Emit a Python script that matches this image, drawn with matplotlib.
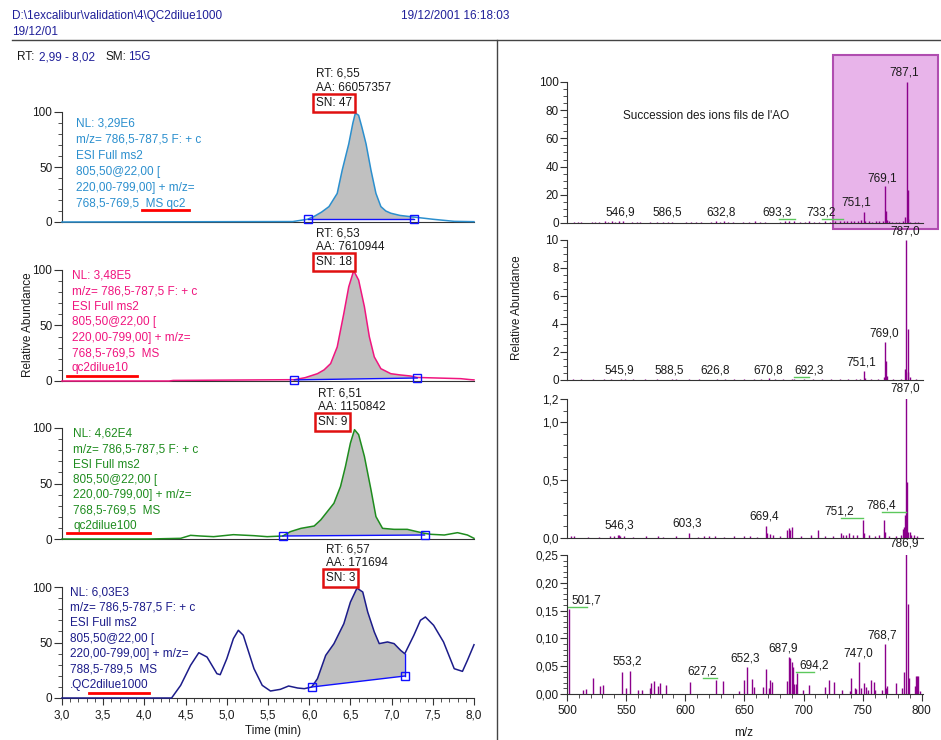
"""
plot.py

Xcalibur-style report: four SRM chromatograms (left) and the matching
MS2 spectra (right) for the QC2 dilution series.
"""

import matplotlib
matplotlib.use('Agg')
import matplotlib.pyplot as plt
from matplotlib.ticker import MultipleLocator, FixedLocator, FuncFormatter
from matplotlib.patches import Rectangle
from matplotlib.lines import Line2D

plt.rcParams['font.family'] = ['Liberation Sans', 'DejaVu Sans']
plt.rcParams['font.size'] = 8.5

# --- chromatograms: time (min) / relative abundance (%) ---
t_qc2 = [3.0, 5.80, 5.98, 6.06, 6.15, 6.24, 6.34, 6.40, 6.48, 6.53, 6.56, 6.60, 6.64,
         6.69, 6.75, 6.81, 6.87, 6.93, 6.99, 7.10, 7.27, 7.50, 7.76, 8.0]
i_qc2 = [0.0, 0.4, 2.5, 5.1, 9.0, 14, 26, 47, 71, 90, 99, 97, 86,
         71, 47, 26, 14, 10, 8, 6, 4.5, 2.5, 0.6, 0.3]

t_d10 = [3.0, 4.30, 4.35, 5.82, 5.95, 6.10, 6.18, 6.26, 6.34, 6.42, 6.48, 6.54, 6.60,
         6.67, 6.73, 6.79, 6.87, 6.99, 7.10, 7.23, 7.31, 7.50, 7.84, 7.96, 8.0]
i_d10 = [0.0, 0.0, 0.5, 1.2, 3.0, 6.6, 10, 15.7, 30.7, 60.8, 84.9, 99.4, 90.9,
         66.9, 39.8, 21.7, 11.1, 6.6, 5.5, 4.5, 3.2, 2.8, 2.1, 1.2, 1.0]

t_d100 = [3.0, 4.05, 4.44, 4.56, 4.68, 4.84, 5.08, 5.33, 5.49, 5.68, 5.77, 5.90, 6.06,
          6.14, 6.22, 6.30, 6.38, 6.44, 6.50, 6.55, 6.60, 6.67, 6.75, 6.81, 6.89,
          7.03, 7.19, 7.31, 7.40, 7.48, 7.64, 7.80, 7.92, 8.0]
i_d100 = [0.0, 0.0, 0.6, 3.3, 2.7, 2.1, 3.9, 3.0, 2.1, 2.7, 6.6, 9.6, 11.7,
          17.2, 24.7, 32.2, 47.3, 65.4, 86.4, 98.5, 94, 74.4, 44.3, 20.2, 9.6,
          8.7, 8.7, 6.6, 5.1, 4.2, 3.6, 5.7, 3.6, 0.6]

t_d1000 = [3.0, 4.33, 4.44, 4.56, 4.66, 4.76, 4.88, 4.92, 5.00, 5.08, 5.14, 5.20, 5.33,
           5.43, 5.53, 5.65, 5.75, 5.86, 5.94, 6.03, 6.10, 6.20, 6.30, 6.42, 6.50,
           6.58, 6.65, 6.71, 6.79, 6.85, 6.95, 7.03, 7.11, 7.16, 7.27, 7.35, 7.41,
           7.51, 7.63, 7.76, 7.86, 7.92, 8.0]
i_d1000 = [0.0, 0.0, 11.4, 29.4, 40.8, 36.9, 21.9, 21.0, 35.4, 53.5, 61.0, 56.5, 26.4,
           11.4, 6.3, 7.8, 10.8, 9.0, 8.4, 9.9, 17.4, 38.4, 48.9, 66.9, 86.4,
           99, 95.5, 77.5, 59.5, 49, 50.5, 49, 42.9, 39.9, 56.5, 70, 73,
           65.5, 50.5, 26.4, 24, 33.9, 48]

# integration limits (start, end) and baseline levels
limits = [(5.98, 7.27), (5.82, 7.31), (5.68, 7.40), (6.03, 7.16)]
base_levels = [(2.5, 2.5), (1.0, 2.7), (2.7, 3.6), (9.9, 19.8)]

rt_values = ['6,55', '6,53', '6,51', '6,57']
aa_values = ['66057357', '7610944', '1150842', '171694']
sn_values = ['47', '18', '9', '3']
nl_values = ['3,29E6', '3,48E5', '4,62E4', '6,03E3']
mz_windows = ['768,5-769,5', '768,5-769,5', '768,5-769,5', '788,5-789,5']
samples = ['qc2', 'qc2dilue10', 'qc2dilue100', '.QC2dilue1000']

# --- MS2 spectra: m/z / relative abundance ---
mz_s1 = [506, 509, 512, 521, 524, 527, 532, 535, 538, 541, 544, 547, 555, 559, 562,
         570, 576, 581, 585, 589, 601, 605, 609, 613, 622, 626, 629, 633, 636, 640,
         649, 654, 659, 663, 667, 680, 684, 688, 692, 697, 701, 705, 709, 713, 718,
         722, 727, 731, 734, 737, 740, 743, 746, 749, 751.1, 752.0, 755, 758, 761,
         764, 767, 769.1, 769.8, 770.5, 772, 775, 778, 781, 784, 786.2, 787.1, 787.9,
         788.7, 790, 794, 797]
ab_s1 = [0.8, 0.6, 0.9, 1.0, 0.7, 0.8, 1.2, 0.9, 1.1, 0.8, 1.3, 1.5, 0.7, 0.9, 0.6,
         0.8, 1.0, 0.7, 0.9, 0.8, 0.7, 1.0, 0.8, 0.6, 0.9, 1.1, 0.7, 1.2, 0.8, 1.0,
         0.9, 0.7, 1.1, 0.8, 0.6, 1.0, 1.3, 1.5, 1.2, 0.9, 0.8, 1.1, 0.9, 1.0, 1.2,
         1.0, 1.3, 1.1, 1.4, 1.2, 1.5, 1.3, 1.6, 1.8, 7.6, 1.5, 1.2, 1.0, 1.3,
         1.1, 1.4, 26, 8.7, 2.0, 1.2, 0.9, 1.0, 0.8, 1.5, 4.5, 100, 23.6,
         3.0, 1.0, 0.8, 0.6]

mz_s2 = [505, 512, 522, 531, 537, 545.9, 549, 556, 566, 576, 588.5, 592, 603, 612,
         626.8, 634, 641, 650, 658, 664, 670.8, 676, 683, 690, 692.3, 700, 708, 716,
         723, 731, 738, 744, 748, 751.1, 751.8, 757, 763, 768.2, 769.0, 769.8, 770.5,
         776, 782, 786.2, 787.0, 787.9, 788.7, 790, 795]
ab_s2 = [0.05, 0.07, 0.06, 0.08, 0.05, 0.10, 0.06, 0.05, 0.07, 0.06, 0.08, 0.05, 0.06,
         0.05, 0.07, 0.06, 0.05, 0.06, 0.07, 0.05, 0.12, 0.07, 0.06, 0.08, 0.10, 0.07,
         0.06, 0.08, 0.07, 0.09, 0.08, 0.07, 0.10, 0.62, 0.15, 0.08, 0.07, 0.20, 2.72,
         1.34, 0.30, 0.08, 0.10, 0.76, 10.0, 3.63, 0.57, 0.20, 0.06]

mz_s3 = [503, 506, 518, 527, 536, 540, 543, 544.1, 545, 548, 556, 567, 577, 581, 592,
         603.1, 611, 616, 620, 625, 633, 641, 650, 655, 661, 668.3, 669.2, 672, 674.5,
         680, 685.9, 687.3, 688.6, 689.9, 698, 706, 712.3, 718, 725, 731.4, 733, 736,
         738.4, 742, 745, 750.6, 751.5, 755, 760, 764, 768.0, 768.8, 772, 778, 782,
         784.5, 785.2, 785.7, 786.3, 787.0, 787.8, 788.6, 789.6, 791, 793.5, 796]
ab_s3 = [0.015, 0.015, 0.01, 0.012, 0.015, 0.02, 0.025, 0.03, 0.02, 0.015, 0.01, 0.015,
         0.02, 0.012, 0.015, 0.043, 0.012, 0.02, 0.015, 0.02, 0.012, 0.015, 0.02, 0.015,
         0.012, 0.107, 0.04, 0.035, 0.03, 0.015, 0.066, 0.087, 0.066, 0.095, 0.02, 0.025,
         0.066, 0.02, 0.015, 0.046, 0.03, 0.025, 0.046, 0.03, 0.025, 0.153, 0.04, 0.03,
         0.02, 0.025, 0.159, 0.05, 0.02, 0.015, 0.03, 0.08, 0.095, 0.2, 0.09, 1.21,
         0.485, 0.05, 0.05, 0.03, 0.03, 0.02]

mz_s4 = [501.7, 513.8, 515.8, 522.2, 527.9, 530.1, 546.9, 549.7, 553.2, 560.0, 563.5,
         569.9, 570.8, 573.3, 577.0, 579.0, 584.0, 603.7, 626.1, 631.7, 645.2, 649.4,
         652.3, 656.2, 657.9, 665.5, 668.3, 670.5, 671.7, 673.1, 685.7, 687.9, 688.7,
         689.9, 691.0, 692.1, 693.2, 694.2, 699.2, 704.8, 718.3, 721.1, 725.9, 732.9,
         739.4, 740.2, 743.3, 744.4, 747.0, 748.3, 751.4, 752.8, 754.5, 757.3, 759.3,
         760.4, 766.0, 768.7, 769.4, 770.5, 777.8, 783.5, 784.9, 786.9, 788.0, 789.1,
         794.5, 795.3, 796.2, 797.0, 798.2]
ab_s4 = [0.153, 0.008, 0.009, 0.029, 0.014, 0.016, 0.040, 0.010, 0.042, 0.008, 0.008,
         0.010, 0.019, 0.023, 0.015, 0.019, 0.017, 0.021, 0.025, 0.023, 0.005, 0.025,
         0.048, 0.027, 0.013, 0.013, 0.045, 0.011, 0.025, 0.021, 0.023, 0.066, 0.065,
         0.058, 0.048, 0.018, 0.018, 0.037, 0.008, 0.017, 0.012, 0.025, 0.021, 0.008,
         0.006, 0.029, 0.011, 0.009, 0.058, 0.011, 0.020, 0.013, 0.008, 0.026, 0.021,
         0.008, 0.008, 0.090, 0.011, 0.015, 0.019, 0.011, 0.040, 0.252, 0.161, 0.029,
         0.015, 0.033, 0.033, 0.033, 0.005]

# peak labels (text, x, y) and leader lines (x0, x1, y) per spectrum
labels_s1 = [('546,9', 544.7, 7.1), ('586,5', 585.1, 7.1), ('632,8', 630.6, 7.1),
             ('693,3', 677.8, 7.1), ('733,2', 714.9, 7.1), ('751,1', 744.4, 14.2),
             ('769,1', 766.3, 31.9), ('787,1', 784.8, 106.4)]
leaders_s1 = [(679, 693, 2.8), (716, 733, 2.8)]
labels_s2 = [('545,9', 544.1, 0.66), ('588,5', 586.8, 0.66), ('626,8', 625.6, 0.66),
             ('670,8', 669.7, 0.66), ('692,3', 704.8, 0.66), ('751,1', 748.8, 1.26),
             ('769,0', 768.0, 3.33), ('787,0', 786.2, 10.6)]
leaders_s2 = [(692.2, 704.8, 0.24)]
labels_s3 = [('546,3', 544.1, 0.112), ('603,3', 601.7, 0.127), ('669,4', 666.8, 0.184),
             ('751,2', 730.0, 0.227), ('786,4', 766.0, 0.279), ('787,0', 785.7, 1.293)]
leaders_s3 = [(731.4, 750.5, 0.17), (766.6, 786.3, 0.227)]
labels_s4 = [('501,7', 516.0, 0.169), ('553,2', 551.1, 0.058), ('627,2', 614.0, 0.040),
             ('652,3', 650.8, 0.064), ('687,9', 682.9, 0.082), ('694,2', 709.0, 0.052),
             ('747,0', 746.1, 0.073), ('768,7', 766.6, 0.106), ('786,9', 784.8, 0.271)]
leaders_s4 = [(501.2, 516.6, 0.157), (615.4, 626.7, 0.029), (693.5, 709.0, 0.040)]

# --- figure helpers (pixel coordinates, origin top-left) ---
W, H = 941, 740
fig = plt.figure(figsize=(W / 100, H / 100), dpi=100)


def fx(px):
    return px / W


def fy(py):
    return 1 - py / H


def box(x0, x1, ytop, ybot):
    return fig.add_axes([fx(x0), fy(ybot), (x1 - x0) / W, (ybot - ytop) / H])


def comma(fmt):
    return FuncFormatter(lambda v, p: format(v, fmt).replace('.', ','))


def hline(x0, x1, y, **kw):
    fig.add_artist(Line2D([fx(x0), fx(x1)], [fy(y), fy(y)], transform=fig.transFigure, **kw))


def put(x, y, s, **kw):
    # y is the visual middle of the digits; baseline sits ~4 px lower
    return fig.text(fx(x), fy(y + 4), s, va='baseline', **kw)


BLACK = '#1a1a1a'
NAVY = '#1f1f99'

# header
put(12, 15, 'D:\\1excalibur\\validation\\4\\QC2dilue1000', color=NAVY)
put(12, 31, '19/12/01', color=NAVY)
put(401, 15, '19/12/2001 16:18:03', color=NAVY)
put(17, 56, 'RT:', color=BLACK)
put(39, 56, '2,99 - 8,02', color=NAVY)
put(106, 56, 'SM:', color=BLACK)
put(128, 56, '15G', color=NAVY)
hline(12, 941, 40, color='#444444', lw=1)
fig.add_artist(Line2D([fx(497), fx(497)], [fy(40), 0], transform=fig.transFigure,
                      color='#444444', lw=1))

# --- left: chromatograms ---
chrom_t = [t_qc2, t_d10, t_d100, t_d1000]
chrom_i = [i_qc2, i_d10, i_d100, i_d1000]
colors = ['#2b8fce', '#f0157f', '#1e8c1e', '#1c1c8a']
left_rows = [(112, 222), (270, 381), (428, 539), (587, 698)]
text_pos = [(76, 123, 16.0), (72, 275, 15.4), (73, 433, 15.3), (70, 591.5, 15.4)]
ann_pos = [(316, 73), (316, 232), (318, 392), (326, 548)]
underlines = [(142, 189, 210), (67, 137, 376), (67, 150, 533), (89, 149, 693)]

for k in range(4):
    ax = box(62, 474, *left_rows[k])
    ax.set_facecolor('none')
    t, y, c = chrom_t[k], chrom_i[k], colors[k]
    t0, t1 = limits[k]
    b0, b1 = base_levels[k]
    # shaded integrated area: curve between limits, back along baseline
    px = [v for v in t if t0 <= v <= t1]
    py = [y[j] for j, v in enumerate(t) if t0 <= v <= t1]
    ax.fill(px + [t1, t0], py + [b1, b0], color='#c0c0c0', lw=0, zorder=1)
    ax.plot(t, y, color=c, lw=1.1, clip_on=False, zorder=3)
    ax.plot([t0, t1], [b0, b1], color='#1010ff', lw=1, zorder=4, clip_on=False)
    if k == 3:
        ax.plot([t1, t1], [b1, py[-1]], color='#1010ff', lw=1, zorder=4)
    ax.plot([t0, t1], [b0, b1], ls='none', marker='s', ms=6, mfc='none',
            mec='#1010ff', mew=1, zorder=5, clip_on=False)

    ax.set_xlim(3.0, 8.0)
    ax.set_ylim(0, 100)
    for s in ('top', 'right'):
        ax.spines[s].set_visible(False)
    for s in ('left', 'bottom'):
        ax.spines[s].set_color('#333333')
    ax.yaxis.set_major_locator(FixedLocator([0, 50, 100]))
    ax.yaxis.set_minor_locator(MultipleLocator(10))
    ax.xaxis.set_major_locator(MultipleLocator(0.5))
    ax.xaxis.set_minor_locator(MultipleLocator(0.1))
    ax.xaxis.set_major_formatter(comma('.1f'))
    ax.tick_params(axis='y', which='major', length=6, pad=1, color='#333333', labelcolor=BLACK)
    ax.tick_params(axis='y', which='minor', length=3, color='#333333')
    if k < 3:
        ax.tick_params(axis='x', which='both', length=0, labelbottom=False)
    else:
        ax.tick_params(axis='x', which='major', length=5, pad=3, color='#333333', labelcolor=BLACK)
        ax.tick_params(axis='x', which='minor', length=3, color='#333333')

    # scan filter text
    x0, y0, step = text_pos[k]
    lines = ['NL: ' + nl_values[k], 'm/z= 786,5-787,5 F: + c', 'ESI Full ms2',
             '805,50@22,00 [', '220,00-799,00] + m/z=']
    if k == 0:
        lines.append(mz_windows[k] + '  MS ' + samples[k])
    else:
        lines += [mz_windows[k] + '  MS', samples[k]]
    for j, line in enumerate(lines):
        put(x0, y0 + step * j, line, color=c)
    hline(*underlines[k][:2], underlines[k][2], color='red', lw=2)

    # peak annotation
    ax_, ay_ = ann_pos[k]
    put(ax_, ay_, 'RT: ' + rt_values[k], color=BLACK)
    put(ax_, ay_ + 14, 'AA: ' + aa_values[k], color=BLACK)
    put(ax_, ay_ + 29, 'SN: ' + sn_values[k], color=BLACK,
        bbox=dict(boxstyle='square,pad=0.25', fc='white', ec='#e01010', lw=1.8))

fig.text(fx(28), fy(325), 'Relative Abundance', rotation=90, ha='center', va='center', color=BLACK)
put(245, 730, 'Time (min)', color=BLACK)

# --- right: MS2 spectra ---
# highlight box behind the first spectrum
fig.add_artist(Rectangle((fx(833), fy(229)), (938 - 833) / W, (229 - 55) / H,
                         transform=fig.transFigure, fc='#e8b4ea', ec='#b04db0', lw=1.5,
                         zorder=-1))

spec_mz = [mz_s1, mz_s2, mz_s3, mz_s4]
spec_ab = [ab_s1, ab_s2, ab_s3, ab_s4]
spec_labels = [labels_s1, labels_s2, labels_s3, labels_s4]
spec_leaders = [leaders_s1, leaders_s2, leaders_s3, leaders_s4]
right_rows = [(82, 223), (240, 380), (399, 538), (555, 694)]
ylims = [100, 10, 1.2, 0.25]
yticks = [[0, 20, 40, 60, 80, 100], [0, 2, 4, 6, 8, 10], [0, 0.5, 1.0, 1.2],
          [0, 0.05, 0.10, 0.15, 0.20, 0.25]]
yminor = [5, 0.5, 0.1, 0.01]
yfmt = ['.0f', '.0f', '.1f', '.2f']

for k in range(4):
    ax = box(567, 923, *right_rows[k])
    ax.set_facecolor('none')
    ax.vlines(spec_mz[k], 0, spec_ab[k], color='#8b008b', lw=1)
    for txt, x, y in spec_labels[k]:
        ax.text(x, y, txt, ha='center', va='center', color=BLACK, clip_on=False)
    for x0, x1, y in spec_leaders[k]:
        ax.plot([x0, x1], [y, y], color='#5cc85c', lw=1, clip_on=False)

    ax.set_xlim(500, 801)
    ax.set_ylim(0, ylims[k])
    for s in ('top', 'right'):
        ax.spines[s].set_visible(False)
    for s in ('left', 'bottom'):
        ax.spines[s].set_color('#333333')
    ax.yaxis.set_major_locator(FixedLocator(yticks[k]))
    ax.yaxis.set_minor_locator(MultipleLocator(yminor[k]))
    ax.yaxis.set_major_formatter(comma(yfmt[k]))
    ax.xaxis.set_major_locator(MultipleLocator(50))
    ax.xaxis.set_minor_locator(MultipleLocator(10))
    ax.tick_params(axis='y', which='major', length=5, pad=1, color='#333333', labelcolor=BLACK)
    ax.tick_params(axis='y', which='minor', length=3, color='#333333')
    if k < 3:
        ax.tick_params(axis='x', which='both', length=0, labelbottom=False)
    else:
        ax.tick_params(axis='x', which='major', length=5, pad=3, color='#333333', labelcolor=BLACK)
        ax.tick_params(axis='x', which='minor', length=3, color='#333333')

put(623, 115, "Succession des ions fils de l'AO", color=BLACK)
fig.text(fx(517), fy(308), 'Relative Abundance', rotation=90, ha='center', va='center', color=BLACK)
put(734, 732, 'm/z', color=BLACK)

fig.savefig('out.png', dpi=100)
